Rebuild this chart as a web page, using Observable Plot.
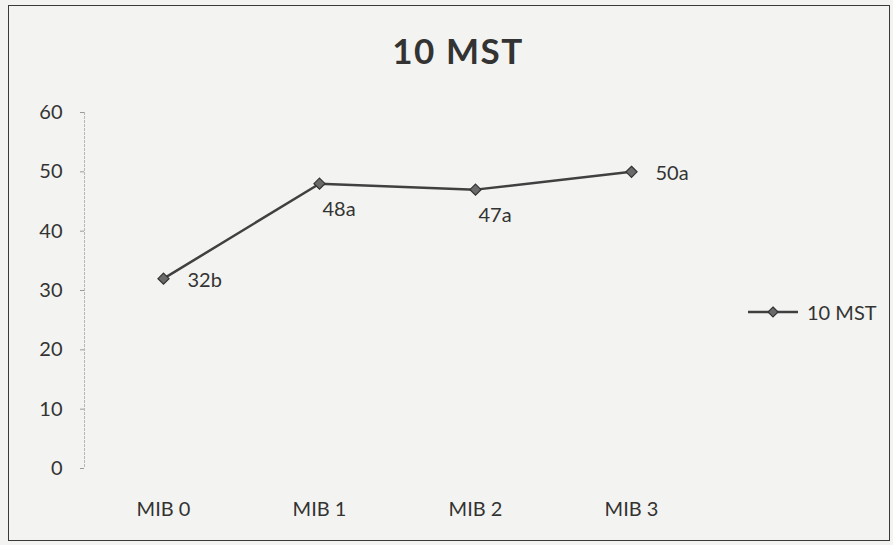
<!DOCTYPE html>
<html>
<head>
<meta charset="utf-8">
<script src="https://cdn.jsdelivr.net/npm/d3@7"></script>
<script src="https://cdn.jsdelivr.net/npm/@observablehq/plot@0.6"></script>
<style>
  html, body { margin: 0; padding: 0; background: #f3f3f1; }
  #chart { position: relative; width: 893px; height: 545px; overflow: hidden;
           font-family: Lato, "Open Sans", sans-serif; color: #333; }
  #frame { position: absolute; left: 8px; top: 5px; width: 882px; height: 536px;
           border: 1.5px solid #3a3a3a; box-sizing: border-box; pointer-events: none; }
  #title { position: absolute; left: 0; width: 916px; top: 29px; text-align: center;
           font-weight: 700; font-size: 35px; color: #333; letter-spacing: 1.5px; }
  #legend { position: absolute; left: 748px; top: 299px; display: flex; align-items: center;
            font-size: 20px; color: #333; line-height: 26px; }
  #legend svg { margin-right: 9px; }
  #plot { position: absolute; left: 0; top: 0; }
</style>
</head>
<body>
<div id="chart">
  <div id="plot"></div>
  <div id="title"></div>
  <div id="legend"></div>
  <div id="frame"></div>
</div>
<script>
// Mean values after 10 days, with significance letters
const categories = ["MIB 0", "MIB 1", "MIB 2", "MIB 3"];
const values = [32, 48, 47, 50];
const letters = ["b", "a", "a", "a"];
const yTicks = [0, 10, 20, 30, 40, 50, 60];
const seriesName = "10 MST";

const data = categories.map((c, i) => ({
  cat: c,
  value: values[i],
  label: `${values[i]}${letters[i]}`,
  below: i === 1 || i === 2
}));

const lineColor = "#404040";
const font = "Lato, 'Open Sans', sans-serif";

const chart = Plot.plot({
  width: 893,
  height: 545,
  marginLeft: 84,
  marginRight: 183,
  marginTop: 112,
  marginBottom: 77,
  style: { background: "transparent", fontFamily: font, fontSize: "20px", color: "#333" },
  x: { type: "point", domain: categories, padding: 0.5, label: null },
  y: { domain: [0, 60], label: null },
  marks: [
    Plot.frame({ anchor: "left", stroke: "#b8b8b8", strokeDasharray: "2,2" }),
    Plot.axisY({ ticks: yTicks, tickSize: 4, tickPadding: 18, stroke: "#9a9a9a", fill: "#333", fontSize: 20, label: null }),
    Plot.axisX({ tickSize: 0, tickPadding: 33, fill: "#333", fontSize: 20, label: null }),
    Plot.line(data, { x: "cat", y: "value", stroke: lineColor, strokeWidth: 2.5 }),
    Plot.dot(data, { x: "cat", y: "value", symbol: "diamond2", r: 5, fill: "#6a6a6a", stroke: "#333", strokeWidth: 1.2 }),
    // labels to the right of the marker
    Plot.text(data.filter(d => !d.below), { x: "cat", y: "value", text: "label", textAnchor: "start", dx: 24, dy: 2, fontSize: 20, fill: "#333" }),
    // labels below the marker
    Plot.text(data.filter(d => d.below), { x: "cat", y: "value", text: "label", textAnchor: "start", dx: 3, dy: 26, fontSize: 20, fill: "#333" })
  ]
});
document.getElementById("plot").append(chart);

document.getElementById("title").textContent = seriesName;

// Legend swatch: line with a diamond marker, then the series name
const legend = document.getElementById("legend");
const sw = d3.create("svg").attr("width", 50).attr("height", 14);
sw.append("line").attr("x1", 0).attr("x2", 50).attr("y1", 7).attr("y2", 7)
  .attr("stroke", lineColor).attr("stroke-width", 2.5);
sw.append("path").attr("d", d3.symbol(d3.symbolDiamond2, 64)()).attr("transform", "translate(25,7)")
  .attr("fill", "#6a6a6a").attr("stroke", "#333").attr("stroke-width", 1.2);
legend.append(sw.node());
const lt = document.createElement("span");
lt.textContent = seriesName;
legend.append(lt);
</script>
</body>
</html>
